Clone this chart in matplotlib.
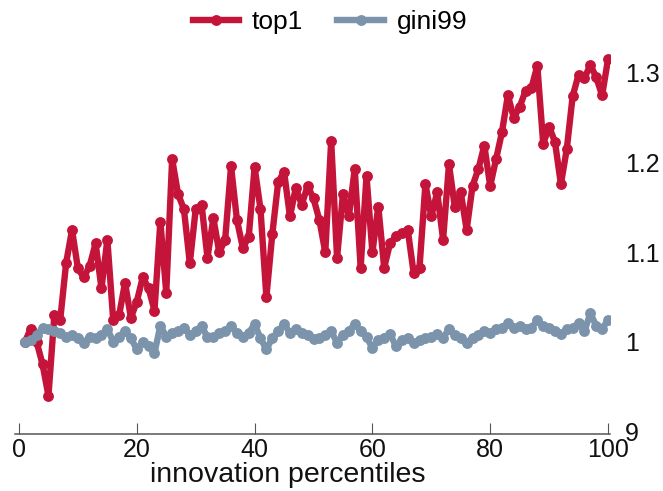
import matplotlib
matplotlib.use("Agg")
import matplotlib.pyplot as plt
from matplotlib import font_manager

percentiles = list(range(1, 101))

top1 = [
    1.000, 1.015, 1.000, 0.975, 0.940, 1.030, 1.025, 1.088, 1.125, 1.082,
    1.072, 1.085, 1.110, 1.060, 1.114, 1.024, 1.030, 1.066, 1.027, 1.045,
    1.072, 1.060, 1.035, 1.134, 1.055, 1.204, 1.165, 1.148, 1.088, 1.148,
    1.153, 1.094, 1.138, 1.100, 1.114, 1.196, 1.136, 1.105, 1.117, 1.195,
    1.148, 1.050, 1.120, 1.178, 1.190, 1.140, 1.172, 1.153, 1.174, 1.160,
    1.136, 1.100, 1.224, 1.094, 1.165, 1.140, 1.193, 1.083, 1.185, 1.100,
    1.151, 1.083, 1.110, 1.118, 1.122, 1.125, 1.077, 1.083, 1.176, 1.140,
    1.167, 1.114, 1.198, 1.150, 1.167, 1.125, 1.174, 1.193, 1.219, 1.174,
    1.204, 1.234, 1.275, 1.250, 1.262, 1.280, 1.283, 1.308, 1.221, 1.240,
    1.223, 1.176, 1.215, 1.274, 1.298, 1.294, 1.309, 1.295, 1.275, 1.315,
]

gini99 = [
    1.000, 1.002, 1.008, 1.016, 1.014, 1.012, 1.010, 1.006, 1.008, 1.004,
    0.999, 1.006, 1.004, 1.008, 1.015, 1.000, 1.006, 1.012, 1.004, 0.992,
    1.000, 0.996, 0.988, 1.018, 1.006, 1.010, 1.012, 1.016, 1.008, 1.012,
    1.018, 1.005, 1.005, 1.010, 1.012, 1.018, 1.010, 1.005, 1.010, 1.020,
    1.004, 0.992, 1.004, 1.012, 1.020, 1.010, 1.015, 1.010, 1.008, 1.003,
    1.004, 1.008, 1.012, 0.999, 1.008, 1.012, 1.020, 1.012, 1.006, 0.993,
    1.002, 1.004, 1.009, 0.995, 1.002, 1.004, 0.999, 1.002, 1.004, 1.006,
    1.009, 1.004, 1.015, 1.008, 1.004, 0.999, 1.004, 1.008, 1.012, 1.010,
    1.014, 1.016, 1.021, 1.016, 1.018, 1.014, 1.016, 1.024, 1.018, 1.016,
    1.012, 1.009, 1.014, 1.016, 1.021, 1.012, 1.032, 1.018, 1.015, 1.024,
]

x_ticks = [0, 20, 40, 60, 80, 100]
y_ticks = [0.9, 1.0, 1.1, 1.2, 1.3]
y_tick_labels = ["9", "1", "1.1", "1.2", "1.3"]

names = {f.name for f in font_manager.fontManager.ttflist}
fam = ["Liberation Sans Narrow"] if "Liberation Sans Narrow" in names else ["Liberation Sans"]
plt.rcParams["font.family"] = fam + ["DejaVu Sans"]

RED = "#C4143A"
GRAY = "#7B93AB"
W, H = 663, 491
fig = plt.figure(figsize=(W / 100, H / 100), dpi=100)
ax = fig.add_axes([15 / W, (H - 434) / H, 595 / W, (434 - 46) / H])

ax.plot(percentiles, top1, color=RED, lw=4.6, marker="o", ms=6.8, label="top1", zorder=3)
ax.plot(percentiles, gini99, color=GRAY, lw=4.6, marker="o", ms=6.8, label="gini99", zorder=4)

ax.set_xlim(-0.68, 100.34)
ax.set_ylim(0.8974, 1.33)
ax.set_xticks(x_ticks)
ax.set_yticks(y_ticks)
ax.set_yticklabels(y_tick_labels)
ax.yaxis.tick_right()
for s in ["top", "left", "right"]:
    ax.spines[s].set_visible(False)
ax.spines["bottom"].set_color("#555555")
ax.spines["bottom"].set_linewidth(1.1)
ax.tick_params(axis="x", direction="in", length=8, width=0.8, color="#555555",
               labelsize=18, pad=3, labelcolor="#111111")
ax.tick_params(axis="y", length=0, labelsize=18, pad=11, labelcolor="#111111")

fig.text(288 / W, 3 / H, "innovation percentiles", ha="center", va="bottom",
         fontsize=20.5, color="#111111")

fig.legend(loc="center", bbox_to_anchor=(330 / W, 1 - 22 / H), ncol=2, frameon=False,
           fontsize=19, handlelength=1.75, handletextpad=0.5, columnspacing=1.3,
           numpoints=1)

fig.savefig("out.png", dpi=100)
